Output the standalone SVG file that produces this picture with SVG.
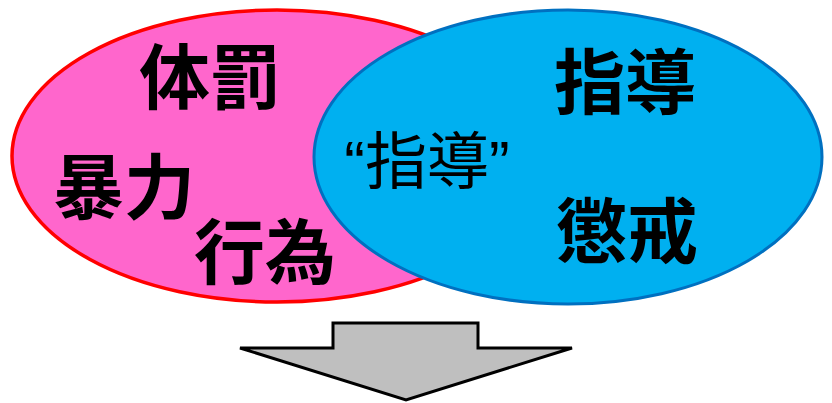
<svg xmlns="http://www.w3.org/2000/svg" width="832" height="403" viewBox="0 0 832 403">
<style>
.big{font-family:"Noto Sans CJK JP","Noto Sans CJK SC",sans-serif;font-weight:700;font-size:71px;fill:#000}
.mid{font-family:"Liberation Sans","Noto Sans CJK JP",sans-serif;font-weight:400;font-size:62px;fill:#000}
</style>
<g id="violence">
<ellipse cx="277" cy="156" rx="265" ry="146" fill="#FF66CC" stroke="#FF0000" stroke-width="3.5"/>
<text class="big" x="139" y="103">体罰</text>
<text class="big" x="53" y="213">暴力</text>
<text class="big" x="194" y="278">行為</text>
</g>
<g id="guidance">
<ellipse cx="568" cy="157" rx="254" ry="147" fill="#00B0F0" stroke="#0070C0" stroke-width="3"/>
<text class="big" x="554" y="108">指導</text>
<text class="big" x="556" y="257">懲戒</text>
<text class="mid" x="427" y="184" text-anchor="middle">“指導”</text>
</g>
<g id="arrow">
<polygon points="333,323 478,323 478,348 572,348 406,400 240,348 333,348" fill="#BFBFBF" stroke="#000" stroke-width="3" stroke-linejoin="miter"/>
</g>
</svg>
